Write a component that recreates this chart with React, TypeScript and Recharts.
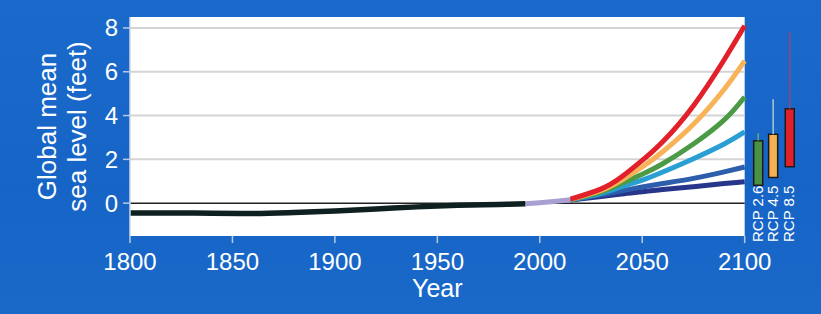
import React from 'react';
import { ComposedChart, Line, XAxis, YAxis, ReferenceArea, ReferenceLine } from 'recharts';

// Historical tide-gauge record (feet)
const histYears = [1800, 1820, 1840, 1860, 1880, 1900, 1920, 1940, 1960, 1980, 1993];
const histLevel = [-0.45, -0.45, -0.46, -0.47, -0.43, -0.36, -0.27, -0.17, -0.1, -0.06, -0.03];

// Satellite record
const satYears = [1993, 2000, 2008, 2015];
const satLevel = [-0.03, 0.02, 0.09, 0.16];

// Projections
const projYears = [2015, 2030, 2040, 2050, 2060, 2075, 2090, 2100];
const projHighest = [0.18, 0.65, 1.2, 1.95, 2.8, 4.45, 6.55, 8.1];
const projHigh = [0.17, 0.58, 1.05, 1.65, 2.35, 3.6, 5.2, 6.5];
const projIntHigh = [0.16, 0.52, 0.9, 1.32, 1.8, 2.7, 3.8, 4.85];
const projInt = [0.15, 0.45, 0.75, 1.05, 1.42, 2.03, 2.7, 3.25];
const projIntLow = [0.15, 0.38, 0.56, 0.74, 0.9, 1.13, 1.43, 1.65];
const projLow = [0.14, 0.3, 0.42, 0.52, 0.62, 0.75, 0.9, 0.98];

// RCP likely ranges for 2100
const rcpLabels = ['RCP 2.6', 'RCP 4.5', 'RCP 8.5'];
const rcpLow = [0.82, 1.17, 1.66];
const rcpHigh = [2.85, 3.15, 4.31];
const rcpMax = [3.19, 4.75, 7.83];

const xTicks = [1800, 1850, 1900, 1950, 2000, 2050, 2100];
const yTicks = [0, 2, 4, 6, 8];
const gridValues = [2, 4, 6, 8];

// styles / positions
const projSeries = [
  { key: 'low', values: projLow, color: '#27358a' },
  { key: 'intLow', values: projIntLow, color: '#2c5eab' },
  { key: 'int', values: projInt, color: '#2a9fd3' },
  { key: 'intHigh', values: projIntHigh, color: '#4a9a46' },
  { key: 'high', values: projHigh, color: '#f8b257' },
  { key: 'highest', values: projHighest, color: '#e2202a' },
];
const rcpFill = ['#4a9244', '#f7b04f', '#e0202a'];
const rcpWhisker = ['#5fa88a', '#a9c9cf', '#8e4a7c'];
const rcpCenter = [2106.6, 2113.9, 2122.0];
const rcpHalf = 2.2;
const LABEL_Y = 242;
const FONT = '"Liberation Sans", Arial, Helvetica, sans-serif';

type Row = { [k: string]: number | undefined };
const rowMap = new Map<number, Row>();
const put = (years: number[], vals: number[], key: string) => {
  years.forEach((y, i) => {
    const r = rowMap.get(y) || { year: y };
    r[key] = vals[i];
    rowMap.set(y, r);
  });
};
put(histYears, histLevel, 'hist');
put(satYears, satLevel, 'sat');
projSeries.forEach((s) => put(projYears, s.values, s.key));
const data = Array.from(rowMap.values()).sort((a, b) => (a.year as number) - (b.year as number));

const YLabel = (props: any) => {
  const vb = props.viewBox || {};
  const cy = vb.y + vb.height / 2;
  return (
    <g fill="#ffffff" fontSize={26} fontFamily={FONT}>
      <text x={56} y={cy} textAnchor="middle" transform={`rotate(-90 56 ${cy})`}>Global mean</text>
      <text x={86} y={cy} textAnchor="middle" transform={`rotate(-90 86 ${cy})`}>sea level (feet)</text>
    </g>
  );
};

const makeRcpLabel = (text: string) => (props: any) => {
  const vb = props.viewBox || {};
  const bx = vb.x + vb.width;
  return (
    <text x={bx} y={LABEL_Y} transform={`rotate(-90 ${bx} ${LABEL_Y})`} fill="#ffffff" fontSize={15} fontFamily={FONT}>
      {text}
    </text>
  );
};

export default function App() {
  return (
    <div style={{ position: 'absolute', left: 0, top: 0, width: 821, height: 314, background: 'linear-gradient(180deg, #1a6acb 0%, #1664c6 60%, #1a68c8 100%)' }}>
      <ComposedChart width={821} height={314} data={data} margin={{ top: 17, right: 21, left: 0, bottom: 0 }}>
        <XAxis
          dataKey="year"
          type="number"
          domain={[1800, 2127]}
          ticks={xTicks}
          axisLine={false}
          tickLine={{ stroke: '#b9c9e2', strokeWidth: 1.5 }}
          tickSize={7}
          tickMargin={10}
          height={78}
          tick={{ fill: '#ffffff', fontSize: 24, fontFamily: FONT }}
        />
        <YAxis
          type="number"
          domain={[-1.5, 8.5]}
          ticks={yTicks}
          width={130}
          axisLine={{ stroke: '#cfd8e8', strokeWidth: 1.5 }}
          tickLine={{ stroke: '#b9c9e2', strokeWidth: 1.5 }}
          tickSize={7}
          tickMargin={5}
          tick={{ fill: '#ffffff', fontSize: 24, fontFamily: FONT }}
          label={{ content: YLabel }}
        />
        <ReferenceArea x1={1800} x2={2100} y1={-1.5} y2={8.5} fill="#ffffff" fillOpacity={1} stroke="none" />
        {gridValues.map((g) => (
          <ReferenceLine key={g} segment={[{ x: 1800, y: g }, { x: 2100, y: g }]} stroke="#d4d4d4" strokeWidth={2} />
        ))}
        <ReferenceLine segment={[{ x: 1800, y: 0 }, { x: 2100, y: 0 }]} stroke="#222222" strokeWidth={1.5} />
        <ReferenceLine x={1950} stroke="none" label={{ value: 'Year', position: 'bottom', offset: 43, fill: '#ffffff', fontSize: 25, fontFamily: FONT }} />
        {rcpLabels.map((lab, i) => (
          <ReferenceLine
            key={'w' + lab}
            segment={[{ x: rcpCenter[i], y: rcpHigh[i] }, { x: rcpCenter[i], y: rcpMax[i] }]}
            stroke={rcpWhisker[i]}
            strokeWidth={1.5}
          />
        ))}
        {rcpLabels.map((lab, i) => (
          <ReferenceArea
            key={'b' + lab}
            x1={rcpCenter[i] - rcpHalf}
            x2={rcpCenter[i] + rcpHalf}
            y1={rcpLow[i]}
            y2={rcpHigh[i]}
            fill={rcpFill[i]}
            fillOpacity={1}
            stroke="#1b1b1b"
            strokeWidth={1.5}
            label={makeRcpLabel(lab)}
          />
        ))}
        <Line dataKey="hist" type="monotone" stroke="#0f2020" strokeWidth={5.5} dot={false} isAnimationActive={false} />
        <Line dataKey="sat" type="monotone" stroke="#a99fd0" strokeWidth={5} dot={false} isAnimationActive={false} />
        {projSeries.map((s) => (
          <Line key={s.key} dataKey={s.key} type="natural" stroke={s.color} strokeWidth={5} dot={false} isAnimationActive={false} />
        ))}
      </ComposedChart>
    </div>
  );
}
